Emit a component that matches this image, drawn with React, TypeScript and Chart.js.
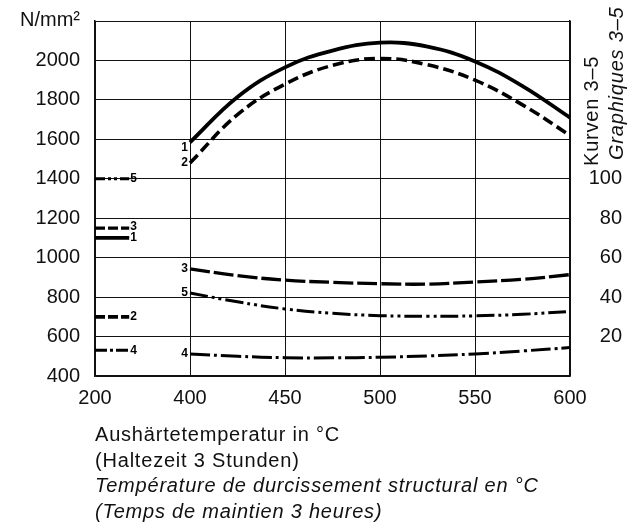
import { useEffect, useRef } from "react";
import { Chart, registerables } from "chart.js";

Chart.register(...registerables);

// ---- data ----
const temps = [400, 425, 450, 475, 500, 525, 550, 575, 600];
const curve1 = [1585, 1815, 1965, 2050, 2090, 2070, 1995, 1870, 1710];
const curve2 = [1480, 1725, 1880, 1975, 2010, 1978, 1900, 1775, 1620];
const curve3 = [943, 909, 886, 875, 868, 866, 877, 890, 914];
const curve4 = [512, 500, 493, 492, 495, 502, 512, 527, 544];
const curve5 = [821, 776, 740, 718, 706, 703, 705, 713, 727];
const curveNames = ["1", "2", "3", "4", "5"];
// values in the initial state (200 °C), curves 1..5
const initialValues = [1100, 700, 1150, 530, 1400];
const leftTicks = [400, 600, 800, 1000, 1200, 1400, 1600, 1800, 2000];
const rightTicks = [20, 40, 60, 80, 100];
const xTicks = [200, 400, 450, 500, 550, 600];
const yUnit = "N/mm²";
const rightTitle1 = "Kurven 3–5";
const rightTitle2 = "Graphiques 3–5";
const xTitleLines = [
  "Aushärtetemperatur in °C",
  "(Haltezeit 3 Stunden)",
  "Température de durcissement structural en °C",
  "(Temps de maintien 3 heures)",
];

// axis break: the "200" tick is placed one step left of 400
const BREAK_POS = 350;
const MARK_END = 368;

const dashes: number[][] = [
  [],
  [11, 5],
  [20, 4],
  [20, 4, 3, 4],
  [18, 4, 3, 4, 3, 4],
];
const widths = [3.8, 3.6, 3.3, 3, 3];

const FONT = "'Liberation Sans', Arial, Helvetica, sans-serif";

export default function App() {
  const ref = useRef<HTMLCanvasElement | null>(null);

  useEffect(() => {
    if (!ref.current) return;
    const curves = [curve1, curve2, curve3, curve4, curve5];

    const mainSets = curves.map((c, i) => ({
      label: "Kurve " + curveNames[i],
      data: temps.map((t, k) => ({ x: t, y: c[k] })),
      borderColor: "#000",
      borderWidth: widths[i],
      borderDash: dashes[i],
      pointRadius: 0,
      tension: 0.4,
      fill: false,
      yAxisID: "y",
    }));
    const markSets = initialValues.map((v, i) => ({
      label: "Ausgang " + curveNames[i],
      data: [
        { x: BREAK_POS, y: v },
        { x: MARK_END, y: v },
      ],
      borderColor: "#000",
      borderWidth: widths[i],
      borderDash: i === 0 ? [] : i === 1 || i === 2 ? [10, 3] : i === 3 ? [12, 3, 3, 3] : [10, 3, 3, 3, 3, 3],
      pointRadius: 0,
      fill: false,
      yAxisID: "y",
    }));

    const textPlugin = {
      id: "texts",
      afterDatasetsDraw(chart: any) {
        const ctx = chart.ctx as CanvasRenderingContext2D;
        const xs = chart.scales.x;
        const ys = chart.scales.y;
        ctx.save();
        ctx.fillStyle = "#000";
        // curve numbers at start of curves
        ctx.font = `bold 12px ${FONT}`;
        ctx.textBaseline = "middle";
        ctx.textAlign = "right";
        const startOff = [5, 0, 0, 0, 0];
        curves.forEach((c, i) => {
          const x = xs.getPixelForValue(temps[0]) - 2;
          const y = ys.getPixelForValue(c[0]) + startOff[i];
          ctx.fillText(curveNames[i], x, y);
        });
        // curve numbers at the initial-state markers
        ctx.textAlign = "left";
        initialValues.forEach((v, i) => {
          const x = xs.getPixelForValue(MARK_END) + 1;
          const y = ys.getPixelForValue(v) - (i === 2 ? 1 : 0);
          ctx.fillText(curveNames[i], x, y);
        });
        // unit
        ctx.font = `20px ${FONT}`;
        ctx.fillStyle = "#111";
        ctx.textAlign = "right";
        ctx.textBaseline = "middle";
        ctx.fillText(yUnit, 80, 20);
        // x title lines
        ctx.textAlign = "left";
        ctx.textBaseline = "alphabetic";
        (ctx as any).letterSpacing = "0.8px";
        xTitleLines.forEach((line, i) => {
          ctx.font = `${i >= 2 ? "italic " : ""}20px ${FONT}`;
          ctx.fillText(line, 95, 441 + i * 25.5);
        });
        // right rotated titles
        ctx.save();
        ctx.translate(598, 166);
        ctx.rotate(-Math.PI / 2);
        ctx.font = `20px ${FONT}`;
        ctx.textBaseline = "alphabetic";
        ctx.fillText(rightTitle1, 0, 0);
        ctx.restore();
        ctx.save();
        ctx.translate(623, 160);
        ctx.rotate(-Math.PI / 2);
        ctx.font = `italic 20px ${FONT}`;
        ctx.textBaseline = "alphabetic";
        ctx.fillText(rightTitle2, 0, 0);
        ctx.restore();
        ctx.restore();
      },
    };

    const chart = new Chart(ref.current, {
      type: "line",
      data: { datasets: [...mainSets, ...markSets] as any },
      options: {
        animation: false,
        responsive: false,
        maintainAspectRatio: false,
        layout: { padding: { top: 21, left: 0, right: 13, bottom: 0 } },
        plugins: {
          legend: { display: false },
          tooltip: { enabled: false },
          title: { display: false },
        },
        font: { family: FONT, size: 20 },
        scales: {
          x: {
            type: "linear",
            min: BREAK_POS,
            max: 600,
            ticks: {
              stepSize: 50,
              color: "#111",
              font: { family: FONT, size: 20 },
              padding: 10,
              maxRotation: 0,
              callback: (v: any) => {
                const idx = [BREAK_POS, 400, 450, 500, 550, 600].indexOf(Number(v));
                return idx >= 0 ? String(xTicks[idx]) : "";
              },
            },
            grid: { color: "#111", lineWidth: 1, drawTicks: false },
            border: { display: true, color: "#111", width: 1.5 },
            afterFit: (s: any) => {
              s.height = 151;
              s.paddingLeft = 0;
              s.paddingRight = 0;
            },
          },
          y: {
            type: "linear",
            position: "left",
            min: 400,
            max: 2200,
            ticks: {
              stepSize: 200,
              color: "#111",
              font: { family: FONT, size: 20 },
              padding: 15,
              callback: (v: any) => (leftTicks.includes(Number(v)) ? String(v) : ""),
            },
            grid: { color: "#111", lineWidth: 1, drawTicks: false },
            border: { display: true, color: "#111", width: 1.5 },
            afterFit: (s: any) => {
              s.width = 95;
              s.paddingTop = 0;
              s.paddingBottom = 0;
            },
          },
          y2: {
            type: "linear",
            position: "right",
            min: 0,
            max: 180,
            ticks: {
              stepSize: 20,
              color: "#111",
              font: { family: FONT, size: 20 },
              crossAlign: "far",
              callback: (v: any) => (rightTicks.includes(Number(v)) ? String(v) : ""),
            },
            grid: { display: false, drawTicks: false },
            border: { display: true, color: "#111", width: 1.5 },
            afterFit: (s: any) => {
              s.width = 52;
              s.paddingTop = 0;
              s.paddingBottom = 0;
            },
          },
        },
      } as any,
      plugins: [textPlugin],
    });
    return () => chart.destroy();
  }, []);

  return (
    <canvas
      ref={ref}
      width={635}
      height={527}
      style={{ position: "fixed", left: 0, top: 0, width: 635, height: 527, background: "#fff" }}
    />
  );
}
